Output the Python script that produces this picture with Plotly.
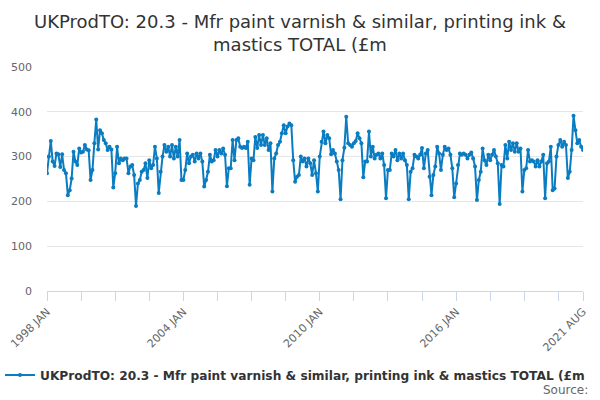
import plotly.graph_objects as go

# monthly turnover, £m (Jan..Dec per year)
y1998 = [263, 300, 335, 289, 279, 307, 305, 277, 305, 270, 263, 214]
y1999 = [225, 251, 311, 289, 281, 318, 309, 311, 326, 316, 314, 248]
y2000 = [270, 330, 383, 316, 359, 352, 337, 330, 315, 322, 316, 231]
y2001 = [263, 322, 285, 296, 292, 296, 296, 263, 278, 281, 259, 190]
y2002 = [240, 248, 266, 270, 285, 252, 292, 274, 281, 322, 296, 219]
y2003 = [266, 300, 326, 311, 322, 300, 326, 296, 322, 300, 337, 248]
y2004 = [248, 270, 307, 285, 300, 304, 289, 307, 296, 307, 289, 233]
y2005 = [248, 266, 304, 289, 292, 315, 300, 315, 307, 318, 304, 234]
y2006 = [274, 274, 337, 292, 337, 341, 322, 319, 322, 319, 333, 237]
y2007 = [296, 292, 344, 319, 348, 326, 348, 326, 341, 315, 330, 222]
y2008 = [296, 307, 326, 333, 352, 370, 352, 367, 374, 370, 292, 244]
y2009 = [255, 259, 300, 289, 296, 278, 296, 285, 259, 292, 263, 222]
y2010 = [300, 333, 356, 330, 348, 341, 305, 315, 307, 289, 270, 205]
y2011 = [292, 320, 389, 330, 326, 322, 330, 335, 352, 341, 330, 254]
y2012 = [289, 289, 356, 300, 322, 296, 304, 307, 296, 307, 281, 207]
y2013 = [270, 270, 307, 300, 315, 292, 307, 296, 307, 292, 281, 205]
y2014 = [266, 274, 304, 300, 296, 304, 319, 274, 307, 315, 255, 214]
y2015 = [259, 278, 322, 307, 270, 304, 322, 315, 318, 304, 274, 209]
y2016 = [240, 281, 307, 304, 307, 304, 296, 304, 309, 296, 278, 203]
y2017 = [248, 266, 318, 292, 281, 304, 292, 304, 315, 300, 285, 194]
y2018 = [281, 278, 326, 296, 333, 315, 330, 311, 330, 311, 318, 222]
y2019 = [270, 274, 315, 289, 292, 289, 278, 292, 278, 289, 304, 207]
y2020 = [285, 289, 322, 225, 229, 300, 326, 337, 322, 333, 326, 252]
y2021 = [266, 315, 391, 359, 330, 337, 322, 315]

years = [y1998, y1999, y2000, y2001, y2002, y2003, y2004, y2005, y2006, y2007, y2008,
         y2009, y2010, y2011, y2012, y2013, y2014, y2015, y2016, y2017, y2018, y2019,
         y2020, y2021]
values = [v for yr in years for v in yr]
idx = list(range(len(values)))

months = ["JAN", "FEB", "MAR", "APR", "MAY", "JUN", "JUL", "AUG", "SEP", "OCT", "NOV", "DEC"]
cats = [f"{1998 + i // 12} {months[i % 12]}" for i in idx]

series_name = "UKProdTO: 20.3 - Mfr paint varnish & similar, printing ink & mastics TOTAL (£m"

# ticks every 18 months, labels every 6 years plus the last month
tick_vals = list(range(0, len(values), 18)) + [len(values) - 1]
tick_text = [cats[t] if (t % 72 == 0 or t == len(values) - 1) else "" for t in tick_vals]

fig = go.Figure()
fig.add_trace(go.Scatter(
    x=idx, y=values, mode="lines+markers", name=series_name,
    line=dict(color="#0a7cc1", width=2),
    marker=dict(size=4, color="#0a7cc1"),
    text=cats, hovertemplate="%{text}: %{y}<extra></extra>",
))

fig.update_layout(
    width=600, height=400,
    margin=dict(l=47, r=17, t=67, b=109),
    paper_bgcolor="white", plot_bgcolor="white",
    font=dict(family="DejaVu Sans", color="#666666", size=11),
    title=dict(
        text="UKProdTO: 20.3 - Mfr paint varnish & similar, printing ink &<br>mastics TOTAL (£m",
        x=0.5, xanchor="center", xref="container", y=0.93, yanchor="middle",
        font=dict(family="DejaVu Sans", size=18, color="#333333"),
    ),
    showlegend=True,
    legend=dict(
        orientation="h", xref="container", yref="container",
        x=0.0, xanchor="left", y=0.0625, yanchor="middle",
        font=dict(family="DejaVu Sans", size=12.2, color="#333333", weight="bold"),
        itemwidth=30,
    ),
    xaxis=dict(
        range=[0, len(values) - 1], tickvals=tick_vals, ticktext=tick_text,
        tickangle=-45, ticks="outside", ticklen=9, tickcolor="#ccd6eb",
        showline=True, linecolor="#ccd6eb", showgrid=False, zeroline=False,
        tickfont=dict(size=11, color="#666666"), automargin=False,
    ),
    yaxis=dict(
        range=[0, 500], dtick=100, showgrid=True, gridcolor="#e6e6e6",
        zeroline=False, ticks="", ticklabelstandoff=14, automargin=False,
        tickfont=dict(size=11, color="#666666"),
    ),
    annotations=[dict(
        text="Source:", xref="paper", yref="paper", x=1.013, y=-0.44,
        xanchor="right", yanchor="middle", showarrow=False,
        font=dict(size=12, color="#666666"),
    )],
)

fig.write_html("out.html", config={"displayModeBar": False},
               post_script="document.body.style.margin='0';")
